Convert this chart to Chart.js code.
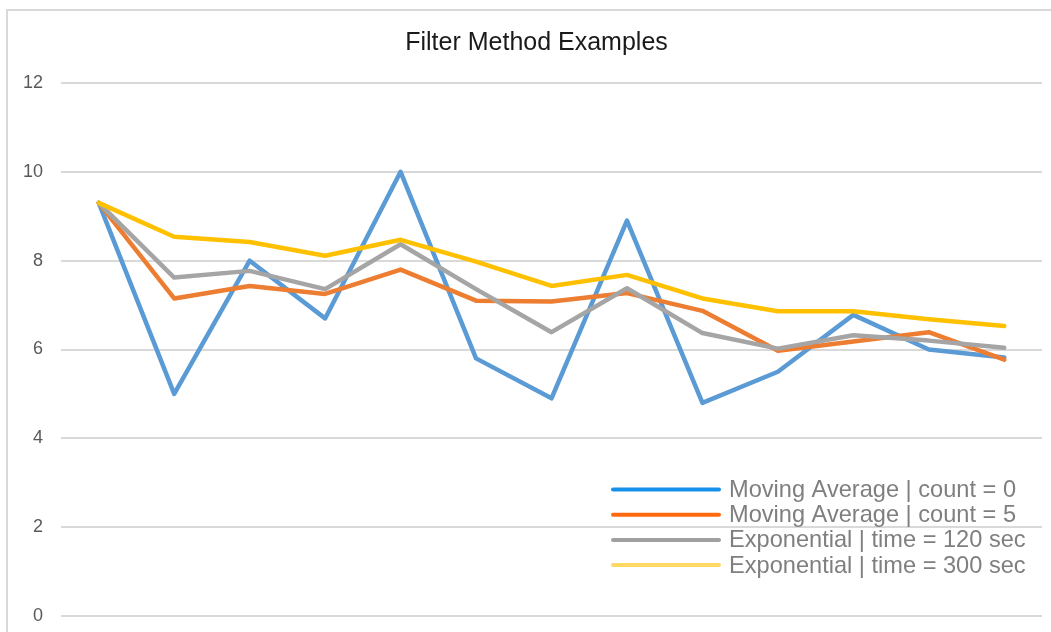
<!DOCTYPE html>
<html>
<head>
<meta charset="utf-8">
<script src="https://cdn.jsdelivr.net/npm/chart.js@4.4.1/dist/chart.umd.min.js"></script>
<style>
  html, body { margin: 0; padding: 0; background: #ffffff; }
  #wrap { position: relative; width: 1051px; height: 632px; overflow: hidden; }
  canvas { display: block; }
</style>
</head>
<body>
<div id="wrap"><canvas id="c" width="1051" height="632"></canvas></div>
<script>
// ---- data ----
const categories = ['1','2','3','4','5','6','7','8','9','10','11','12','13'];
const seriesNames = [
  'Moving Average | count = 0',
  'Moving Average | count = 5',
  'Exponential | time = 120 sec',
  'Exponential | time = 300 sec'
];
const movingAvg0   = [9.3, 5.0, 8.0, 6.7, 10.0, 5.8, 4.9, 8.9, 4.8, 5.5, 6.78, 6.0, 5.82];
const movingAvg5   = [9.3, 7.15, 7.43, 7.25, 7.8, 7.1, 7.08, 7.27, 6.87, 5.97, 6.18, 6.39, 5.77];
const expo120      = [9.3, 7.62, 7.77, 7.36, 8.37, 7.36, 6.39, 7.38, 6.37, 6.02, 6.32, 6.2, 6.04];
const expo300      = [9.3, 8.54, 8.42, 8.11, 8.47, 7.98, 7.43, 7.68, 7.15, 6.86, 6.86, 6.68, 6.53];
const yTickLabels  = ['0','2','4','6','8','10','12'];
const chartTitle   = 'Filter Method Examples';

// ---- styles ----
const lineColors   = ['#5B9BD5', '#ED7D31', '#A5A5A5', '#FFC000'];
const legendColors = ['#1790EA', '#FF6A10', '#A0A0A0', '#FFD866'];

const seriesValues = [movingAvg0, movingAvg5, expo120, expo300];

const datasets = seriesValues.map((vals, i) => ({
  label: seriesNames[i],
  data: vals,
  borderColor: lineColors[i],
  backgroundColor: lineColors[i],
  borderWidth: 4.5,
  pointRadius: 0,
  pointHoverRadius: 0,
  tension: 0,
  fill: false,
  borderJoinStyle: 'round',
  borderCapStyle: 'round',
  order: seriesValues.length - 1 - i
}));

const frameBorder = {
  id: 'frameBorder',
  beforeDraw(chart) {
    const ctx = chart.ctx;
    ctx.save();
    ctx.fillStyle = '#ffffff';
    ctx.fillRect(0, 0, chart.width, chart.height);
    ctx.strokeStyle = '#d9d9d9';
    ctx.lineWidth = 2;
    ctx.strokeRect(7, 10, chart.width + 50, chart.height + 50);
    ctx.restore();
  }
};

const innerLegend = {
  id: 'innerLegend',
  afterDraw(chart) {
    const ctx = chart.ctx;
    const x0 = 613, x1 = 719, tx = 729, y0 = 489.5, dy = 25.2;
    ctx.save();
    ctx.font = '23.6px "Liberation Sans", Arial, sans-serif';
    ctx.textBaseline = 'middle';
    ctx.textAlign = 'left';
    chart.data.datasets.forEach((ds, i) => {
      const y = y0 + i * dy;
      ctx.strokeStyle = legendColors[i];
      ctx.lineWidth = 4;
      ctx.lineCap = 'round';
      ctx.beginPath();
      ctx.moveTo(x0, y);
      ctx.lineTo(x1, y);
      ctx.stroke();
      ctx.fillStyle = '#7f7f7f';
      ctx.fillText(ds.label, tx, y + 1);
    });
    ctx.restore();
  }
};

new Chart(document.getElementById('c'), {
  type: 'line',
  data: { labels: categories, datasets },
  plugins: [frameBorder, innerLegend],
  options: {
    responsive: false,
    animation: false,
    devicePixelRatio: 1,
    layout: { padding: { left: 22, right: 0, top: 0, bottom: 16 } },
    plugins: {
      legend: { display: false },
      tooltip: { enabled: false },
      title: {
        display: true,
        text: chartTitle,
        color: '#1a1a1a',
        font: { family: '"Liberation Sans", Arial, sans-serif', size: 25, weight: 'normal', lineHeight: 1.2 },
        padding: { top: 28, bottom: 25 }
      }
    },
    scales: {
      x: {
        type: 'category',
        display: false,
        offset: true,
        grid: { display: false }
      },
      y: {
        position: 'left',
        min: 0,
        max: 12,
        afterBuildTicks(scale) {
          scale.ticks = yTickLabels.map(t => ({ value: Number(t) }));
        },
        afterFit(scale) {
          scale.width = 39;
          scale.paddingTop = 0;
          scale.paddingBottom = 0;
        },
        border: { display: false },
        grid: { color: '#d9d9d9', lineWidth: 2, drawTicks: false },
        ticks: {
          padding: 18,
          color: '#595959',
          font: { family: '"Liberation Sans", Arial, sans-serif', size: 18 },
          callback: (v) => yTickLabels[yTickLabels.indexOf(String(v))]
        }
      },
      yRight: {
        position: 'right',
        min: 0,
        max: 12,
        afterFit(scale) {
          scale.width = 9;
          scale.paddingTop = 0;
          scale.paddingBottom = 0;
        },
        border: { display: false },
        grid: { display: false, drawTicks: false },
        ticks: { display: false }
      }
    }
  }
});
</script>
</body>
</html>
